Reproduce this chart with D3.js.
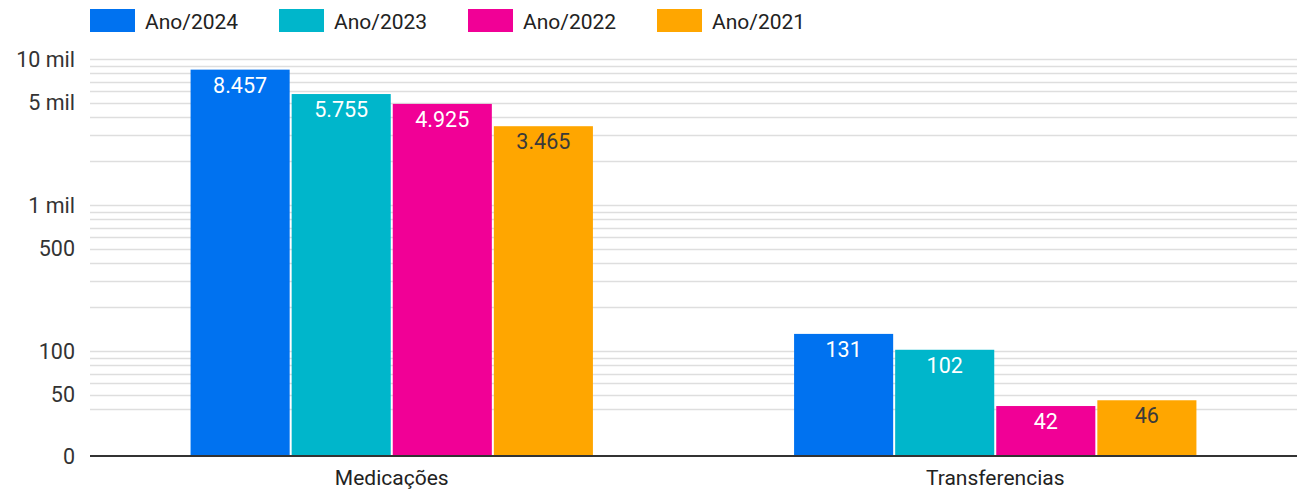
<!DOCTYPE html>
<html>
<head>
<meta charset="utf-8">
<script src="https://cdn.jsdelivr.net/npm/d3@7"></script>
<style>
  html, body { margin: 0; padding: 0; background: #fff; }
  svg { display: block; font-family: Roboto, "Noto Sans", sans-serif; }
</style>
</head>
<body>
<svg id="chart" width="1303" height="495"></svg>
<script>
// ---- data ----
const categories = ["Medicações", "Transferencias"];
const seriesNames = ["Ano/2024", "Ano/2023", "Ano/2022", "Ano/2021"];
const values2024 = [8457, 131];
const values2023 = [5755, 102];
const values2022 = [4925, 42];
const values2021 = [3465, 46];
const valueLabels2024 = ["8.457", "131"];
const valueLabels2023 = ["5.755", "102"];
const valueLabels2022 = ["4.925", "42"];
const valueLabels2021 = ["3.465", "46"];
const tickValues = [0, 50, 100, 500, 1000, 5000, 10000];
const tickLabels = ["0", "50", "100", "500", "1 mil", "5 mil", "10 mil"];
const colors = ["#0072f0", "#00b6cb", "#f10096", "#ffa600"];
const labelColors = ["#ffffff", "#ffffff", "#ffffff", "#3a3a3a"];

const seriesValues = [values2024, values2023, values2022, values2021];
const seriesLabels = [valueLabels2024, valueLabels2023, valueLabels2022, valueLabels2021];

// ---- layout ----
const svg = d3.select("#chart");
const plot = { left: 90, right: 1297, top: 59, bottom: 456 };
const logFloor = 19.1; // value mapped to the baseline of the log axis

const y = d3.scaleLog().domain([logFloor, 10000]).range([plot.bottom, plot.top]).clamp(true);
const yPos = v => v <= 0 ? y(logFloor) : y(v);

const x0 = d3.scaleBand().domain(categories).range([plot.left, plot.right])
  .paddingInner(0.33).paddingOuter(0.165);
const x1 = d3.scaleBand().domain(seriesNames).range([0, x0.bandwidth()]).padding(0);

// minor gridlines
const minor = y.ticks().filter(v => v >= 40);
svg.append("g").selectAll("line").data(minor).join("line")
  .attr("x1", plot.left).attr("x2", plot.right)
  .attr("y1", d => Math.round(y(d)) + 0.5).attr("y2", d => Math.round(y(d)) + 0.5)
  .attr("stroke", "#dedede").attr("stroke-width", 1.5);

// y labels
svg.append("g").selectAll("text").data(tickValues).join("text")
  .attr("x", 75).attr("y", d => yPos(d) + 7.5)
  .attr("text-anchor", "end").attr("font-size", 21.5).attr("fill", "#333")
  .text((d, i) => tickLabels[i]);

// bars
const barData = [];
seriesNames.forEach((s, si) => {
  categories.forEach((c, ci) => {
    barData.push({ s, si, c, v: seriesValues[si][ci], label: seriesLabels[si][ci] });
  });
});

const g = svg.append("g");
g.selectAll("rect").data(barData).join("rect")
  .attr("x", d => x0(d.c) + x1(d.s) + 1)
  .attr("width", x1.bandwidth() - 2)
  .attr("y", d => yPos(d.v))
  .attr("height", d => yPos(0) - yPos(d.v))
  .attr("fill", d => colors[d.si]);

g.selectAll("text").data(barData).join("text")
  .attr("x", d => x0(d.c) + x1(d.s) + x1.bandwidth() / 2)
  .attr("y", d => yPos(d.v) + 23)
  .attr("text-anchor", "middle").attr("font-size", 21.5)
  .attr("fill", d => labelColors[d.si])
  .text(d => d.label);

// baseline
svg.append("line")
  .attr("x1", plot.left).attr("x2", plot.right)
  .attr("y1", yPos(0)).attr("y2", yPos(0))
  .attr("stroke", "#333").attr("stroke-width", 2);

// x labels
svg.append("g").selectAll("text").data(categories).join("text")
  .attr("x", d => x0(d) + x0.bandwidth() / 2).attr("y", 485)
  .attr("text-anchor", "middle").attr("font-size", 21).attr("fill", "#222")
  .text(d => d);

// legend
const legend = svg.append("g").selectAll("g").data(seriesNames).join("g")
  .attr("transform", (d, i) => `translate(${90 + i * 189}, 9)`);
legend.append("rect").attr("width", 45).attr("height", 23).attr("fill", (d, i) => colors[i]);
legend.append("text").attr("x", 55).attr("y", 19.5).attr("font-size", 21).attr("fill", "#222").text(d => d);
</script>
</body>
</html>
